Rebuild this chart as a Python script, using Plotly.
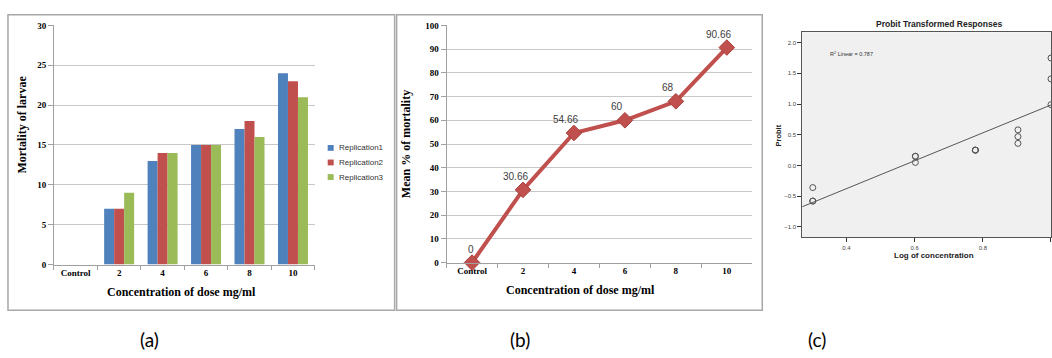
import numpy as np
import plotly.graph_objects as go

W, H = 1052, 358

# ---------------- data ----------------
categories = ["Control", "2", "4", "6", "8", "10"]
replication1 = [0, 7, 13, 15, 17, 24]
replication2 = [0, 7, 14, 15, 18, 23]
replication3 = [0, 9, 14, 15, 16, 21]
series_names = ["Replication1", "Replication2", "Replication3"]

mean_mortality = [0, 30.66, 54.66, 60, 68, 90.66]
mean_labels = ["0", "30.66", "54.66", "60", "68", "90.66"]

log_conc = [0.301, 0.301, 0.301, 0.602, 0.602, 0.602, 0.778, 0.778, 0.778,
            0.903, 0.903, 0.903, 1.0, 1.0, 1.0]
probit = [-0.58, -0.58, -0.36, 0.05, 0.15, 0.15, 0.25, 0.25, 0.25,
          0.47, 0.58, 0.36, 1.75, 1.41, 0.99]
r2_text = "R<sup>2</sup> Linear = 0.787"

# ---------------- helpers ----------------
def px(x):
    return x / W

def py(y):
    return 1 - y / H

SERIF = "Liberation Serif"
SANS = "Liberation Sans"
GRID = "#C8C8C8"
AX = "#A0A0A0"

fig = go.Figure()

# Panel (a) bars
colors = ["#4F81BD", "#C0504D", "#9BBB59"]
for name, vals, c in zip(series_names, [replication1, replication2, replication3], colors):
    fig.add_trace(go.Bar(x=categories, y=vals, name=name, marker_color=c,
                         marker_line_width=0, showlegend=False, xaxis="x", yaxis="y"))

# Panel (b) line
fig.add_trace(go.Scatter(x=categories, y=mean_mortality, mode="lines+markers",
                         line=dict(color="#C0504D", width=4),
                         marker=dict(symbol="diamond", size=12, color="#C0504D",
                                     line=dict(color="#A8403D", width=1)),
                         cliponaxis=False, showlegend=False, xaxis="x2", yaxis="y2"))

# Panel (c) probit scatter + fit line
coef = np.polyfit(log_conc, probit, 1)
xr = np.array([0.27, 1.0])
fig.add_trace(go.Scatter(x=xr, y=np.polyval(coef, xr), mode="lines",
                         line=dict(color="#555555", width=1),
                         showlegend=False, xaxis="x3", yaxis="y3"))
fig.add_trace(go.Scatter(x=log_conc, y=probit, mode="markers",
                         marker=dict(symbol="circle-open", size=6, color="#555555",
                                     line=dict(width=1)),
                         showlegend=False, xaxis="x3", yaxis="y3"))

tick_serif = dict(family=SERIF, size=9, color="#000000", weight="bold")
title_serif = dict(family=SERIF, size=12, color="#000000", weight="bold")

fig.update_layout(
    width=W, height=H, margin=dict(l=0, r=0, t=0, b=0),
    paper_bgcolor="white", plot_bgcolor="rgba(0,0,0,0)",
    barmode="group", bargap=0.31, bargroupgap=0,
    showlegend=False,
    xaxis=dict(domain=[px(54), px(315)], type="category", tickson="boundaries",
               ticks="outside", ticklen=4, tickcolor=AX, showline=True, linecolor=AX,
               showgrid=False, tickfont=tick_serif),
    yaxis=dict(domain=[py(267), py(21)], range=[0, 30], dtick=5, ticks="outside",
               ticklen=5, tickcolor=AX, showline=True, linecolor=AX,
               showgrid=True, gridcolor=GRID, zeroline=False, tickfont=tick_serif),
    xaxis2=dict(domain=[px(447), px(753)], type="category", tickson="boundaries",
                range=[-0.5, len(categories) - 0.5],
                ticks="outside", ticklen=4, tickcolor=AX, showline=True, linecolor=AX,
                showgrid=False, tickfont=tick_serif, anchor="y2"),
    yaxis2=dict(domain=[py(265), py(21)], range=[0, 100], dtick=10, ticks="outside",
                ticklen=5, tickcolor=AX, showline=True, linecolor=AX,
                showgrid=True, gridcolor=GRID, zeroline=False, tickfont=tick_serif,
                anchor="x2",
                title=dict(text="Mean % of mortality", font=title_serif, standoff=12)),
    xaxis3=dict(domain=[px(803), 1.0], range=[0.27, 1.0], tickvals=[0.4, 0.6, 0.8, 1.0],
                ticktext=["0.4", "0.6", "0.8", "1.0"], ticks="outside", ticklen=4,
                tickcolor="#333333", showline=True, linecolor="#555555", mirror=True,
                showgrid=False, zeroline=False,
                tickfont=dict(family=SANS, size=6, color="#444444"), anchor="y3"),
    yaxis3=dict(domain=[py(239), py(28)], range=[-1.17, 2.17],
                tickvals=[-1.0, -0.5, 0.0, 0.5, 1.0, 1.5, 2.0],
                tickformat=".1f", ticks="outside", ticklen=4, tickcolor="#333333",
                showline=True, linecolor="#555555", mirror=True, showgrid=False,
                zeroline=False, tickfont=dict(family=SANS, size=6, color="#444444"),
                anchor="x3"),
)

shapes = [
    dict(type="rect", xref="paper", yref="paper", x0=px(8), x1=px(395), y0=py(314), y1=py(10),
         line=dict(color="#A8A8A8", width=1.5), layer="below"),
    dict(type="rect", xref="paper", yref="paper", x0=px(397), x1=px(763), y0=py(314), y1=py(10),
         line=dict(color="#A8A8A8", width=1.5), layer="below"),
    dict(type="rect", xref="paper", yref="paper", x0=px(803), x1=1.0, y0=py(239), y1=py(28),
         fillcolor="#F0F0F0", line=dict(width=0), layer="below"),
]

ann = [
    dict(text="Mortality of larvae", x=px(22), y=py(123), textangle=-90, font=title_serif),
    dict(text="Concentration of dose mg/ml", x=px(182), y=py(295), font=title_serif),
    dict(text="Concentration of dose mg/ml", x=px(581), y=py(293), font=title_serif),
    dict(text="Probit Transformed Responses", x=px(940), y=py(20),
         font=dict(family=SANS, size=8.5, color="#222222", weight="bold")),
    dict(text="Log of concentration", x=px(935), y=py(258),
         font=dict(family=SANS, size=8, color="#222222", weight="bold")),
    dict(text="Probit", x=px(779), y=py(134), textangle=-90,
         font=dict(family=SANS, size=7.5, color="#222222", weight="bold")),
    dict(text=r2_text, x=px(852), y=py(50),
         font=dict(family=SANS, size=5.5, color="#333333")),
    dict(text="(a)", x=px(150), y=py(344), font=dict(family="Lato", size=19, color="#000000")),
    dict(text="(b)", x=px(520), y=py(344), font=dict(family="Lato", size=19, color="#000000")),
    dict(text="(c)", x=px(818), y=py(344), font=dict(family="Lato", size=19, color="#000000")),
]
for a in ann:
    a.update(xref="paper", yref="paper", showarrow=False, xanchor="center", yanchor="middle")

# legend for panel (a): small square swatches + text
legend_y = [147, 162, 177]
for name, c, yy in zip(series_names, colors, legend_y):
    shapes.append(dict(type="rect", xref="paper", yref="paper",
                       x0=px(328), x1=px(334), y0=py(yy + 3), y1=py(yy - 3),
                       fillcolor=c, line=dict(width=0)))
    ann.append(dict(text=name, x=px(337), y=py(yy), xref="paper", yref="paper",
                    showarrow=False, xanchor="left", yanchor="middle",
                    font=dict(family=SANS, size=8, color="#333333")))

# data labels for panel (b) (category axis -> use category index)
for i, (val, lab) in enumerate(zip(mean_mortality, mean_labels)):
    ann.append(dict(text=lab, x=i, y=val, xref="x2", yref="y2", showarrow=False,
                    xanchor="center", yanchor="bottom", xshift=-8 if i else -1, yshift=6,
                    font=dict(family=SANS, size=10, color="#404040")))

fig.update_layout(shapes=shapes, annotations=ann)

fig.write_html("out.html", config={"displayModeBar": False},
               post_script="document.body.style.margin='0';document.body.style.overflow='hidden';")
